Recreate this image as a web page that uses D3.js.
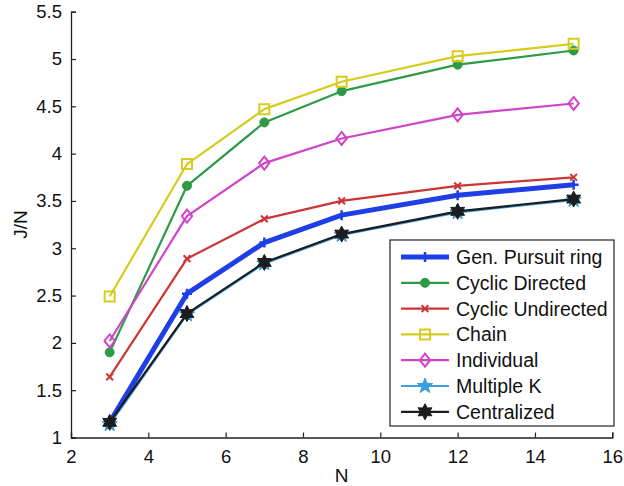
<!DOCTYPE html>
<html>
<head>
<meta charset="utf-8">
<script src="https://cdn.jsdelivr.net/npm/d3@7"></script>
<style>
  html, body { margin: 0; padding: 0; background: #fff; }
  svg { display: block; font-family: "Liberation Sans", Arial, Helvetica, sans-serif; }
</style>
</head>
<body>
<svg id="chart" width="624" height="486"></svg>
<script>
// Team size N on the x axis
const nValues = [3, 5, 7, 9, 12, 15];

// J/N for each strategy
const genPursuitRing   = [1.16, 2.52, 3.06, 3.35, 3.56, 3.67];
const cyclicDirected   = [1.90, 3.66, 4.33, 4.66, 4.94, 5.09];
const cyclicUndirected = [1.64, 2.89, 3.31, 3.50, 3.66, 3.75];
const chain            = [2.49, 3.89, 4.47, 4.76, 5.03, 5.16];
const individual       = [2.02, 3.34, 3.90, 4.16, 4.41, 4.53];
const multipleK        = [1.14, 2.30, 2.84, 3.14, 3.38, 3.51];
const centralized      = [1.16, 2.31, 2.85, 3.15, 3.39, 3.52];

const xTicks = [2, 4, 6, 8, 10, 12, 14, 16];
const yTicks = [1, 1.5, 2, 2.5, 3, 3.5, 4, 4.5, 5, 5.5];

const seriesNames = ["Gen. Pursuit ring", "Cyclic Directed", "Cyclic Undirected",
                     "Chain", "Individual", "Multiple K", "Centralized"];
const seriesValues = [genPursuitRing, cyclicDirected, cyclicUndirected,
                      chain, individual, multipleK, centralized];

const styles = {
  "Gen. Pursuit ring": { color: "#1f3fe6", width: 5,   marker: "plus",    size: 5 },
  "Cyclic Directed":   { color: "#2f9a45", width: 2.2, marker: "circle",  size: 4.5 },
  "Cyclic Undirected": { color: "#cc3535", width: 2.2, marker: "times",   size: 4.5 },
  "Chain":             { color: "#d6cc1e", width: 2.2, marker: "square",  size: 5 },
  "Individual":        { color: "#cf44c8", width: 2.2, marker: "diamond", size: 6.5 },
  "Multiple K":        { color: "#3a9ee0", width: 2.2, marker: "star5",   size: 8 },
  "Centralized":       { color: "#1c1c1c", width: 2.2, marker: "star6",   size: 8 }
};

const svg = d3.select("#chart");
const margin = { left: 71, top: 11.7, right: 11.7, bottom: 48.5 };
const W = 624, H = 486;

const x = d3.scaleLinear().domain([2, 16]).range([margin.left, W - margin.right]);
const y = d3.scaleLinear().domain([1, 5.5]).range([H - margin.bottom, margin.top]);

// marker path generators centred on (0,0)
function markerPath(type, r) {
  const p = d3.path();
  if (type === "circle") {
    p.arc(0, 0, r, 0, 2 * Math.PI);
  } else if (type === "square") {
    p.rect(-r, -r, 2 * r, 2 * r);
  } else if (type === "diamond") {
    p.moveTo(0, -r); p.lineTo(r * 0.8, 0); p.lineTo(0, r); p.lineTo(-r * 0.8, 0); p.closePath();
  } else if (type === "plus") {
    p.moveTo(-r, 0); p.lineTo(r, 0); p.moveTo(0, -r); p.lineTo(0, r);
  } else if (type === "times") {
    const a = r * 0.75;
    p.moveTo(-a, -a); p.lineTo(a, a); p.moveTo(-a, a); p.lineTo(a, -a);
  } else if (type === "star5" || type === "star6") {
    const k = type === "star5" ? 5 : 6;
    const inner = type === "star5" ? r * 0.42 : r * 0.55;
    for (let i = 0; i < 2 * k; i++) {
      const ang = -Math.PI / 2 + i * Math.PI / k;
      const rr = i % 2 === 0 ? r : inner;
      const px = rr * Math.cos(ang), py = rr * Math.sin(ang);
      if (i === 0) p.moveTo(px, py); else p.lineTo(px, py);
    }
    p.closePath();
  }
  return p.toString();
}

function drawMarker(g, type, r, color) {
  const filled = type === "circle" || type === "star5" || type === "star6";
  g.append("path")
    .attr("d", markerPath(type, r))
    .attr("fill", filled ? color : "none")
    .attr("stroke", color)
    .attr("stroke-width", type === "plus" ? 2.5 : (filled ? 1 : 2))
    .attr("stroke-linejoin", "miter");
}

// axes (left and bottom only, ticks pointing inward)
const xAxis = d3.axisBottom(x).tickValues(xTicks).tickSize(-5).tickPadding(8)
  .tickFormat(d3.format("d"));
const yAxis = d3.axisLeft(y).tickValues(yTicks).tickSize(-5).tickPadding(8)
  .tickFormat(d => d);

const gx = svg.append("g").attr("transform", `translate(0,${H - margin.bottom})`).call(xAxis);
const gy = svg.append("g").attr("transform", `translate(${margin.left},0)`).call(yAxis);
[gx, gy].forEach(g => {
  g.select(".domain").attr("stroke", "#222").attr("stroke-width", 1.3);
  g.selectAll(".tick line").attr("stroke", "#222").attr("stroke-width", 1.2);
  g.selectAll(".tick text").attr("fill", "#111").style("font-size", "18.5px")
    .style("font-family", "'Liberation Sans', Arial, sans-serif");
});
gx.selectAll(".tick text").attr("dy", "0.95em");
gy.selectAll(".tick text").attr("dx", "-1");

// axis titles
svg.append("text").attr("x", x(9)).attr("y", 482).attr("text-anchor", "middle")
  .style("font-size", "19px").attr("fill", "#111").text("N");
svg.append("text").attr("transform", `translate(27,${y(3.25)}) rotate(-90)`)
  .attr("text-anchor", "middle").style("font-size", "19px").attr("fill", "#111").text("J/N");

// series
const line = d3.line().x(d => x(d.n)).y(d => y(d.v));
seriesNames.forEach((name, i) => {
  const st = styles[name];
  const pts = nValues.map((n, j) => ({ n, v: seriesValues[i][j] }));
  const g = svg.append("g");
  g.append("path").datum(pts).attr("d", line)
    .attr("fill", "none").attr("stroke", st.color).attr("stroke-width", st.width)
    .attr("stroke-linejoin", "round");
  pts.forEach(p => {
    const mg = g.append("g").attr("transform", `translate(${x(p.n)},${y(p.v)})`);
    drawMarker(mg, st.marker, st.size, st.color);
  });
});

// legend
const lg = svg.append("g");
const lx0 = 390, ly0 = 240, lw = 224, lh = 186;
lg.append("rect").attr("x", lx0).attr("y", ly0).attr("width", lw).attr("height", lh)
  .attr("fill", "#fff").attr("stroke", "#222").attr("stroke-width", 1.2);
seriesNames.forEach((name, i) => {
  const st = styles[name];
  const cy = 257 + i * 25.8;
  lg.append("line").attr("x1", 401).attr("x2", 449).attr("y1", cy).attr("y2", cy)
    .attr("stroke", st.color).attr("stroke-width", st.width);
  const mg = lg.append("g").attr("transform", `translate(425,${cy})`);
  drawMarker(mg, st.marker, st.size, st.color);
  lg.append("text").attr("x", 456).attr("y", cy).attr("dy", "0.36em")
    .style("font-size", "19.5px").attr("fill", "#111").text(name);
});
</script>
</body>
</html>
